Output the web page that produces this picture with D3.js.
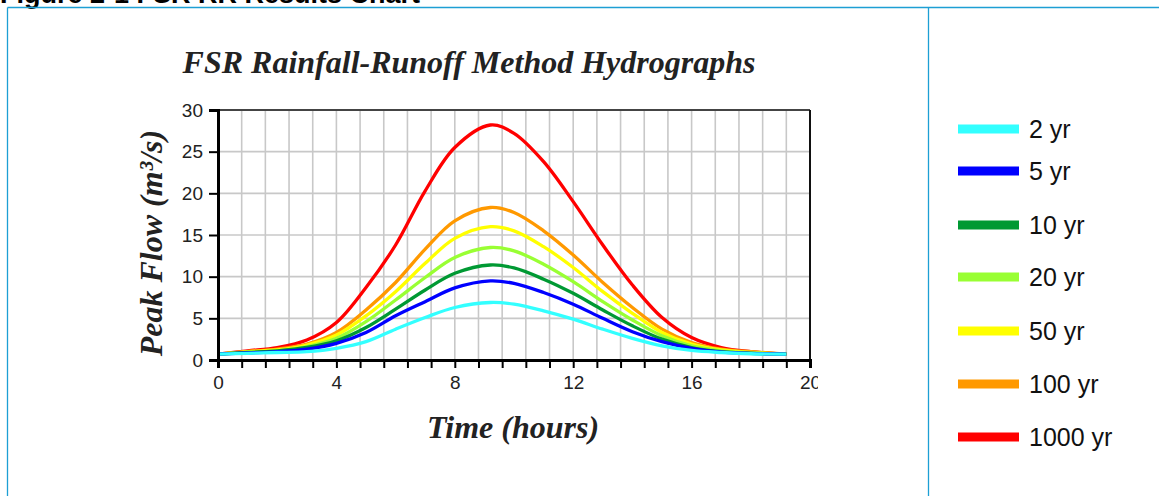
<!DOCTYPE html>
<html>
<head>
<meta charset="utf-8">
<script src="https://cdn.jsdelivr.net/npm/d3@7"></script>
<style>
  body { margin: 0; background: #fff; }
  svg { display: block; }
</style>
</head>
<body>
<svg id="chart" width="1159" height="496"></svg>
<script>
// hydrograph data (hours, m3/s)
var times = [0, 1, 2, 3, 4, 5, 6, 7, 8, 9.2, 10, 11, 12, 13, 14, 15, 16, 17, 18, 19.2];

var names = ["2 yr", "5 yr", "10 yr", "20 yr", "50 yr", "100 yr", "1000 yr"];
var colors = ["#33ffff", "#0000ff", "#009933", "#99ff33", "#ffff00", "#ff9900", "#ff0000"];

var flow2 = [0.7, 0.8, 0.9, 1.0, 1.4, 2.2, 3.7, 5.1, 6.3, 6.9, 6.7, 5.9, 4.9, 3.7, 2.6, 1.7, 1.15, 0.9, 0.75, 0.7];
var flow5 = [0.7, 0.85, 1.0, 1.3, 2.0, 3.3, 5.3, 7.0, 8.65, 9.5, 9.2, 8.1, 6.7, 5.0, 3.4, 2.2, 1.4, 0.95, 0.8, 0.7];
var flow10 = [0.7, 0.9, 1.1, 1.5, 2.3, 3.9, 6.1, 8.4, 10.4, 11.4, 11.05, 9.7, 8.0, 6.0, 4.1, 2.5, 1.5, 1.0, 0.8, 0.7];
var flow20 = [0.7, 0.9, 1.1, 1.6, 2.6, 4.6, 7.2, 9.9, 12.3, 13.5, 13.1, 11.5, 9.4, 7.0, 4.8, 2.9, 1.7, 1.1, 0.85, 0.7];
var flow50 = [0.7, 1.0, 1.2, 1.8, 3.0, 5.3, 8.2, 11.6, 14.6, 16.0, 15.5, 13.6, 11.1, 8.2, 5.6, 3.3, 1.9, 1.2, 0.9, 0.7];
var flow100 = [0.7, 1.0, 1.3, 1.9, 3.3, 6.0, 9.3, 13.3, 16.7, 18.3, 17.7, 15.5, 12.6, 9.3, 6.3, 3.7, 2.1, 1.3, 1.0, 0.7];
var flow1000 = [0.7, 1.1, 1.5, 2.4, 4.5, 8.7, 13.8, 20.3, 25.5, 28.2, 27.2, 23.8, 19.0, 13.8, 9.0, 5.1, 2.7, 1.5, 1.0, 0.7];

var flows = [flow2, flow5, flow10, flow20, flow50, flow100, flow1000];

var xLabels = [0, 4, 8, 12, 16, 20];
var yLabels = [0, 5, 10, 15, 20, 25, 30];

var svg = d3.select("#chart");

var serif = "'Liberation Serif', 'Times New Roman', serif";
var sans = "'Liberation Sans', Arial, sans-serif";

// page frame
svg.append("text")
  .attr("x", 0).attr("y", 3)
  .attr("font-family", sans).attr("font-weight", "bold").attr("font-size", 27)
  .text("Figure 2-1 FSR RR Results Chart");

var frame = svg.append("g").attr("stroke", "#1d9fd4").attr("stroke-width", 1.3);
frame.append("line").attr("x1", 7.5).attr("x2", 1159).attr("y1", 7.5).attr("y2", 7.5);
frame.append("line").attr("x1", 7.5).attr("x2", 7.5).attr("y1", 7.5).attr("y2", 496);
frame.append("line").attr("x1", 928.5).attr("x2", 928.5).attr("y1", 7.5).attr("y2", 496);

// chart picture, clipped on the right like the source
svg.append("defs").append("clipPath").attr("id", "clip")
  .append("rect").attr("x", 8).attr("y", 8).attr("width", 810).attr("height", 480);

var g = svg.append("g").attr("clip-path", "url(#clip)");

var x = d3.scaleLinear().domain([0, 20]).range([218, 810]);
var y = d3.scaleLinear().domain([0, 30]).range([360, 110]);

var minor = d3.range(0, 20.01, 0.8);

// grid
g.append("g").selectAll("line")
  .data(minor.slice(1, -1))
  .enter().append("line")
  .attr("x1", function (d) { return x(d); }).attr("x2", function (d) { return x(d); })
  .attr("y1", y(30)).attr("y2", y(0))
  .attr("stroke", "#c8c8c8").attr("stroke-width", 1.6);

g.append("g").selectAll("line")
  .data(yLabels.slice(1, -1))
  .enter().append("line")
  .attr("x1", x(0)).attr("x2", x(20))
  .attr("y1", function (d) { return y(d); }).attr("y2", function (d) { return y(d); })
  .attr("stroke", "#c8c8c8").attr("stroke-width", 1.6);

// top and right border
g.append("line").attr("x1", x(0)).attr("x2", x(20)).attr("y1", y(30)).attr("y2", y(30))
  .attr("stroke", "#444").attr("stroke-width", 2);
g.append("line").attr("x1", x(20)).attr("x2", x(20)).attr("y1", y(30)).attr("y2", y(0))
  .attr("stroke", "#111").attr("stroke-width", 2);

// curves, largest first so 2 yr sits on top
var line = d3.line()
  .x(function (d, i) { return x(times[i]); })
  .y(function (d) { return y(d); })
  .curve(d3.curveCatmullRom.alpha(0.5));

var order = d3.range(flows.length).reverse();
g.append("g").selectAll("path")
  .data(order)
  .enter().append("path")
  .attr("d", function (i) { return line(flows[i]); })
  .attr("fill", "none")
  .attr("stroke", function (i) { return colors[i]; })
  .attr("stroke-width", 3.3);

// axes
var xAxis = d3.axisBottom(x)
  .tickValues(minor)
  .tickSize(8)
  .tickFormat(function (d) { return xLabels.indexOf(Math.round(d * 10) / 10) >= 0 ? d3.format("d")(d) : ""; });

var yAxis = d3.axisLeft(y)
  .tickValues(yLabels)
  .tickSize(9)
  .tickPadding(6);

var gx = g.append("g").attr("transform", "translate(0," + y(0) + ")").call(xAxis);
var gy = g.append("g").attr("transform", "translate(" + x(0) + ",0)").call(yAxis);

[gx, gy].forEach(function (a) {
  a.select(".domain").attr("stroke", "#000").attr("stroke-width", 3);
  a.selectAll(".tick line").attr("stroke", "#000").attr("stroke-width", 2);
  a.selectAll(".tick text")
    .attr("font-family", sans).attr("font-size", 19).attr("fill", "#222");
});
gx.selectAll(".tick text").attr("dy", "0.95em");

// titles
var titleFont = function (t) {
  t.attr("text-anchor", "middle")
    .attr("font-family", serif).attr("font-style", "italic").attr("font-weight", "bold")
    .attr("font-size", 32).attr("fill", "#222");
};

g.append("text")
  .attr("x", 469).attr("y", 73)
  .call(titleFont)
  .text("FSR Rainfall-Runoff Method Hydrographs");

g.append("text")
  .attr("x", 513).attr("y", 438)
  .call(titleFont)
  .text("Time (hours)");

g.append("text")
  .attr("transform", "translate(162,243) rotate(-90)")
  .call(titleFont)
  .text("Peak Flow (m³/s)");

// legend
var legendY = [129, 171, 225, 277, 331, 384, 437];

var leg = svg.append("g").selectAll("g")
  .data(names)
  .enter().append("g")
  .attr("transform", function (d, i) { return "translate(958," + legendY[i] + ")"; });

leg.append("line")
  .attr("x1", 0).attr("x2", 61)
  .attr("stroke", function (d, i) { return colors[i]; })
  .attr("stroke-width", 9);

leg.append("text")
  .attr("x", 71).attr("y", 9)
  .attr("font-family", sans).attr("font-size", 25).attr("fill", "#111")
  .text(function (d) { return d; });
</script>
</body>
</html>
